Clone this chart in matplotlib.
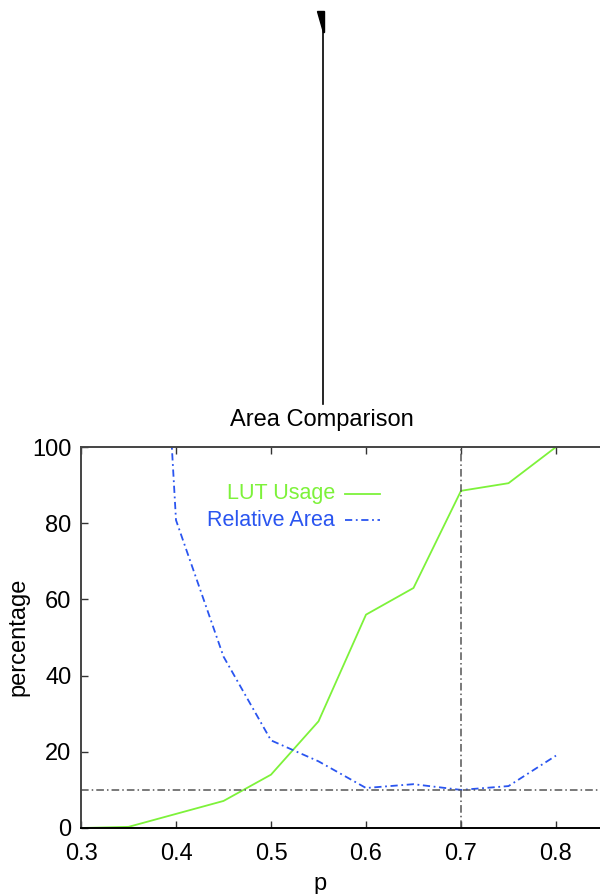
import matplotlib
matplotlib.use("Agg")
import matplotlib.pyplot as plt
from matplotlib.patches import Polygon
from matplotlib.lines import Line2D

plt.rcParams['font.family'] = ['Liberation Sans', 'DejaVu Sans']

p_lut = [0.30, 0.35, 0.40, 0.45, 0.50, 0.55, 0.60, 0.65, 0.70, 0.75, 0.80]
lut_usage = [0.0, 0.3, 3.7, 7.1, 14.0, 28.0, 56.0, 63.0, 88.5, 90.5, 100.0]
p_area = [0.35, 0.40, 0.45, 0.50, 0.55, 0.60, 0.65, 0.70, 0.75, 0.80]
rel_area = [300.0, 80.8, 45.0, 23.0, 17.5, 10.5, 11.5, 10.0, 11.0, 19.0]
x_ticks = [0.3, 0.4, 0.5, 0.6, 0.7, 0.8]
y_ticks = [0, 20, 40, 60, 80, 100]
h_ref = 10
v_ref = 0.7

W, H = 600, 894
fig = plt.figure(figsize=(W / 100, H / 100), dpi=100)
ax = fig.add_axes([81 / W, (H - 828) / H, (651 - 81) / W, (828 - 447) / H])

green = '#7df23a'
blue = '#2a55f0'
gray = '#555555'

ax.plot(p_lut, lut_usage, color=green, lw=1.3)
ax.plot(p_area, rel_area, color=blue, lw=1.3, ls=(0, (4, 2, 1, 2)))
ax.axhline(h_ref, color=gray, lw=1.1, ls=(0, (5, 2, 1, 2)))
ax.axvline(v_ref, color=gray, lw=1.1, ls=(0, (5, 2, 1, 2)))

ax.set_xlim(0.3, 0.9)
ax.set_ylim(0, 100)
ax.set_xticks(x_ticks)
ax.set_xticklabels([f"{v:.1f}" for v in x_ticks])
ax.set_yticks(y_ticks)
ax.tick_params(direction='in', length=5, width=1, colors='#333333', labelcolor='black',
               labelsize=17, top=True, right=True)
ax.tick_params(axis='x', pad=11)
ax.tick_params(axis='y', pad=7)
for s in ax.spines.values():
    s.set_color('#444444')
    s.set_linewidth(1.4)
ax.spines['bottom'].set_color('black')

# legend (gnuplot style)
fig.text(335 / W, 1 - 494 / H, 'LUT Usage', color=green, fontsize=15.5, ha='right', va='center')
fig.text(335 / W, 1 - 520 / H, 'Relative Area', color=blue, fontsize=15.5, ha='right', va='center')
fig.add_artist(Line2D([345 / W, 380 / W], [1 - 494 / H, 1 - 494 / H], color=green, lw=1.3))
fig.add_artist(Line2D([345 / W, 380 / W], [1 - 520 / H, 1 - 520 / H], color=blue, lw=1.3,
                      ls=(0, (4, 2, 1, 2))))

fig.text(322 / W, 1 - 420 / H, 'Area Comparison', fontsize=17, ha='center', va='center')
fig.text(320 / W, 1 - 884 / H, 'p', fontsize=17, ha='center', va='center')
fig.text(18 / W, 1 - 637 / H, 'percentage', fontsize=17, ha='center', va='center', rotation=90)

# vertical artifact at top
fig.add_artist(Line2D([323 / W, 323 / W], [1 - 28 / H, 1 - 404 / H], color='black', lw=1.2))
fig.add_artist(Polygon([[317 / W, 1 - 11 / H], [324 / W, 1 - 11 / H], [324 / W, 1 - 32 / H],
                        [322.5 / W, 1 - 32 / H]], closed=True, color='black',
                       transform=fig.transFigure))

fig.savefig('out.png', dpi=100)
